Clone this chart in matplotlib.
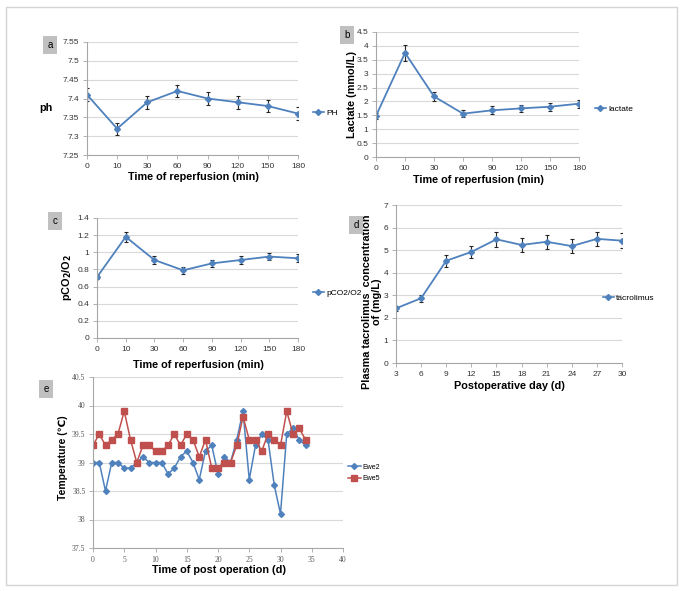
import numpy as np
import matplotlib
matplotlib.use("Agg")
import matplotlib.pyplot as plt
from matplotlib.patches import Rectangle
from matplotlib.lines import Line2D

plt.rcParams['font.family'] = ['Liberation Sans', 'DejaVu Sans']

# panel a-c: reperfusion time
t_rep = ['0', '10', '30', '60', '90', '120', '150', '180']
ph = [7.41, 7.32, 7.39, 7.42, 7.40, 7.39, 7.38, 7.36]
ph_err = [0.017, 0.016, 0.017, 0.017, 0.017, 0.017, 0.016, 0.017]
lactate = [1.48, 3.75, 2.18, 1.56, 1.68, 1.75, 1.81, 1.92]
lactate_err = [0.10, 0.30, 0.17, 0.12, 0.14, 0.14, 0.15, 0.14]
pco2 = [0.71, 1.18, 0.91, 0.79, 0.87, 0.91, 0.95, 0.93]
pco2_err = [0.02, 0.06, 0.045, 0.04, 0.045, 0.045, 0.04, 0.045]

# panel d: tacrolimus
days_d = ['3', '6', '9', '12', '15', '18', '21', '24', '27', '30']
tacro = [2.42, 2.87, 4.53, 4.92, 5.48, 5.23, 5.37, 5.18, 5.50, 5.42]
tacro_err = [0.12, 0.16, 0.27, 0.28, 0.32, 0.30, 0.32, 0.30, 0.32, 0.32]

# panel e: temperature
days_e = list(range(35))
ewe2 = [39.0, 39.0, 38.5, 39.0, 39.0, 38.9, 38.9, 39.0, 39.1, 39.0, 39.0, 39.0,
        38.8, 38.9, 39.1, 39.2, 39.0, 38.7, 39.2, 39.3, 38.8, 39.1, 39.0, 39.4,
        39.9, 38.7, 39.3, 39.5, 39.4, 38.6, 38.1, 39.5, 39.6, 39.4, 39.3]
ewe5 = [39.3, 39.5, 39.3, 39.4, 39.5, 39.9, 39.4, 39.0, 39.3, 39.3, 39.2, 39.2,
        39.3, 39.5, 39.3, 39.5, 39.4, 39.1, 39.4, 38.9, 38.9, 39.0, 39.0, 39.3,
        39.8, 39.4, 39.4, 39.2, 39.5, 39.4, 39.3, 39.9, 39.5, 39.6, 39.4]

W, H = 683, 591
blue = '#4F81BD'
red = '#C0504D'
grid = '#D9D9D9'

fig = plt.figure(figsize=(W / 100, H / 100), dpi=100)
fig.patches.append(Rectangle((6 / W, 1 - 585 / H), 671 / W, 578 / H,
                             transform=fig.transFigure, fill=False,
                             edgecolor='#D4D4D4', lw=1))


def px_axes(x0, y0, x1, y1):
    return fig.add_axes([x0 / W, 1 - y1 / H, (x1 - x0) / W, (y1 - y0) / H])


def fx(x):
    return x / W


def fy(y):
    return 1 - y / H


def style(ax, yticks, tick_font=6, serif=False):
    for s in ['top', 'right']:
        ax.spines[s].set_visible(False)
    for s in ['left', 'bottom']:
        ax.spines[s].set_color('#A6A6A6')
        ax.spines[s].set_linewidth(0.8)
    ax.set_yticks(yticks)
    ax.set_yticklabels(['%g' % v for v in yticks])
    ax.set_ylim(yticks[0], yticks[-1])
    ax.yaxis.grid(True, color=grid, lw=0.8)
    ax.set_axisbelow(True)
    ax.tick_params(length=3, width=0.6, color='#A6A6A6', pad=2.5,
                   labelsize=tick_font, labelcolor='#333333')
    if serif:
        for lb in ax.get_xticklabels() + ax.get_yticklabels():
            lb.set_family('Liberation Serif')
            lb.set_color('#595959')


def label_box(x, y, s):
    fig.text(fx(x), fy(y), s, fontsize=7, ha='center', va='center',
             bbox=dict(boxstyle='square,pad=0.45', fc='#C0C0C0', ec='none'))


def legend(ax, x, y, entries, fs=6):
    handles = [Line2D([], [], color=c, marker=m, ms=ms, lw=1.2) for c, m, ms, _ in entries]
    ax.legend(handles, [e[3] for e in entries], loc='center left',
              bbox_to_anchor=(fx(x), fy(y)), bbox_transform=fig.transFigure,
              frameon=False, fontsize=fs, handlelength=1.3, handletextpad=0.3,
              borderpad=0, borderaxespad=0, labelspacing=0.4)


def cat_panel(box, labels, vals, errs, yticks):
    ax = px_axes(*box)
    pos = np.arange(len(labels))
    ax.errorbar(pos, vals, yerr=errs, color=blue, marker='D', ms=3, lw=1.3,
                ecolor='#262626', elinewidth=0.8, capsize=1.6, capthick=0.8)
    ax.set_xticks(pos)
    ax.set_xticklabels(labels)
    ax.set_xlim(0, len(labels) - 1)
    style(ax, yticks)
    return ax


lab_kw = dict(fontsize=7.8, fontweight='bold')

# a
ax = cat_panel((87, 42, 298, 155), t_rep, ph, ph_err,
               [7.25, 7.3, 7.35, 7.4, 7.45, 7.5, 7.55])
legend(ax, 313, 113, [(blue, 'D', 3, 'PH')])
fig.text(fx(193), fy(177), 'Time of reperfusion (min)', ha='center', va='center', **lab_kw)
fig.text(fx(46), fy(108), 'ph', ha='center', va='center', **lab_kw)
label_box(50, 45, 'a')

# b
ax = cat_panel((376, 32, 579, 157), t_rep, lactate, lactate_err,
               [0, 0.5, 1, 1.5, 2, 2.5, 3, 3.5, 4, 4.5])
legend(ax, 595, 109, [(blue, 'D', 3, 'lactate')])
fig.text(fx(478), fy(180), 'Time of reperfusion (min)', ha='center', va='center', **lab_kw)
fig.text(fx(352), fy(95), 'Lactate (mmol/L)', ha='center', va='center',
         rotation=90, **lab_kw)
label_box(347, 35, 'b')

# c
ax = cat_panel((97, 218, 298, 338), t_rep, pco2, pco2_err,
               [0, 0.2, 0.4, 0.6, 0.8, 1, 1.2, 1.4])
legend(ax, 313, 293, [(blue, 'D', 3, 'pCO2/O2')])
fig.text(fx(198), fy(365), 'Time of reperfusion (min)', ha='center', va='center', **lab_kw)
fig.text(fx(67), fy(278), 'pCO$_\\mathbf{2}$/O$_\\mathbf{2}$', ha='center', va='center',
         rotation=90, **lab_kw)
label_box(55, 221, 'c')

# d
ax = cat_panel((396, 205, 622, 363), days_d, tacro, tacro_err,
               [0, 1, 2, 3, 4, 5, 6, 7])
legend(ax, 603, 298, [(blue, 'D', 3, 'tacrolimus')])
fig.text(fx(509), fy(386), 'Postoperative day (d)', ha='center', va='center', **lab_kw)
fig.text(fx(372), fy(302), 'Plasma tacrolimus  concentration\nof (mg/L)', ha='center',
         va='center', rotation=90, linespacing=1.05, **lab_kw)
label_box(356, 225, 'd')

# e
ax = px_axes(93, 377, 343, 548)
ax.plot(days_e, ewe2, color=blue, marker='D', ms=3, lw=1.1, label='Ewe2')
ax.plot(days_e, ewe5, color=red, marker='s', ms=4, lw=1.1, label='Ewe5')
ax.set_xlim(0, 40)
ax.set_xticks(range(0, 41, 5))
style(ax, [37.5, 38, 38.5, 39, 39.5, 40, 40.5], tick_font=5.5, serif=True)
ax.legend(loc='center left', bbox_to_anchor=(fx(348), fy(473)),
          bbox_transform=fig.transFigure, frameon=False, fontsize=5,
          handlelength=1.8, handletextpad=0.3, borderpad=0, borderaxespad=0,
          labelspacing=0.6)
fig.text(fx(219), fy(570), 'Time of post operation (d)', ha='center', va='center', **lab_kw)
fig.text(fx(63), fy(458), 'Temperature (℃)', ha='center', va='center', rotation=90,
         fontsize=7.5, fontweight='bold')
label_box(46, 389, 'e')

fig.savefig('out.png', dpi=100)
